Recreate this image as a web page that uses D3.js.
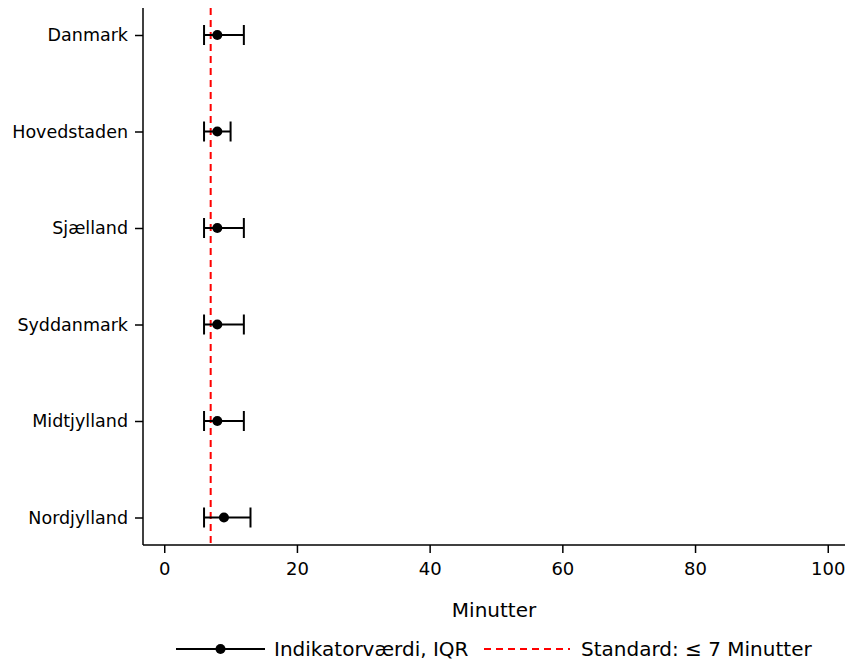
<!DOCTYPE html>
<html lang="en">
<head>
    <meta charset="UTF-8">
    <title>Indikatorværdi per region</title>
    <style>
        body { margin: 0; background: #fff; }
        svg { display: block; }
        svg text { font-family: "DejaVu Sans", sans-serif; fill: #000; }
        .axis path, .axis line { stroke: #000; stroke-width: 1.5px; }
    </style>
    <script src="https://d3js.org/d3.v7.min.js"></script>
</head>
<body>
    <div id="graph"></div>
    <script>
        const regions = ["Danmark", "Hovedstaden", "Sjælland", "Syddanmark", "Midtjylland", "Nordjylland"];
        const median = [8, 8, 8, 8, 8, 9];
        const q1 = [6, 6, 6, 6, 6, 6];
        const q3 = [12, 10, 12, 12, 12, 13];
        const standard = 7;
        const xTicks = [0, 20, 40, 60, 80, 100];

        const width = 845, height = 660;
        const margins = { top: 8, bottom: 115, left: 143, right: 0 };

        const svg = d3.select("#graph").append("svg")
            .attr("width", width)
            .attr("height", height);

        const x = d3.scaleLinear()
            .domain([-3.2, 102.6])
            .range([margins.left, width - margins.right]);

        const y = d3.scalePoint()
            .domain(regions)
            .range([35, 517.5]);

        const yBottom = height - margins.bottom;

        // axes
        svg.append("g")
            .attr("class", "axis")
            .attr("transform", `translate(0, ${yBottom})`)
            .call(d3.axisBottom(x).tickValues(xTicks).tickSize(8).tickSizeOuter(0).tickPadding(9))
            .call(g => g.select(".domain").attr("d", `M${margins.left},0H${width}`))
            .selectAll("text")
            .style("font-size", "18px");

        svg.append("g")
            .attr("class", "axis")
            .attr("transform", `translate(${margins.left}, 0)`)
            .call(d3.axisLeft(y).tickSize(8).tickSizeOuter(0).tickPadding(7))
            .call(g => g.select(".domain").attr("d", `M0,${margins.top}V${yBottom}`))
            .selectAll("text")
            .style("font-size", "17.5px");

        // standard line
        svg.append("line")
            .attr("x1", x(standard)).attr("x2", x(standard))
            .attr("y1", margins.top).attr("y2", yBottom)
            .attr("stroke", "#ff0000")
            .attr("stroke-width", 2)
            .attr("stroke-dasharray", "7,5");

        // IQR bars
        const rows = svg.append("g").selectAll("g")
            .data(regions)
            .join("g")
            .attr("transform", d => `translate(0, ${y(d)})`);

        rows.append("line")
            .attr("x1", (d, i) => x(q1[i]))
            .attr("x2", (d, i) => x(q3[i]))
            .attr("stroke", "#000").attr("stroke-width", 2);

        rows.append("line")
            .attr("x1", (d, i) => x(q1[i])).attr("x2", (d, i) => x(q1[i]))
            .attr("y1", -10).attr("y2", 10)
            .attr("stroke", "#000").attr("stroke-width", 2);

        rows.append("line")
            .attr("x1", (d, i) => x(q3[i])).attr("x2", (d, i) => x(q3[i]))
            .attr("y1", -10).attr("y2", 10)
            .attr("stroke", "#000").attr("stroke-width", 2);

        rows.append("circle")
            .attr("cx", (d, i) => x(median[i]))
            .attr("r", 5)
            .attr("fill", "#000");

        // axis title
        svg.append("text")
            .attr("x", (margins.left + width) / 2)
            .attr("y", 617)
            .attr("text-anchor", "middle")
            .style("font-size", "20px")
            .text("Minutter");

        // legend
        const legend = svg.append("g").attr("transform", "translate(0, 649)");
        legend.append("line")
            .attr("x1", 176).attr("x2", 265)
            .attr("stroke", "#000").attr("stroke-width", 2);
        legend.append("circle")
            .attr("cx", 220.5).attr("r", 5).attr("fill", "#000");
        legend.append("text")
            .attr("x", 274).attr("dy", "0.35em")
            .style("font-size", "20px")
            .text("Indikatorværdi, IQR");
        legend.append("line")
            .attr("x1", 484).attr("x2", 570)
            .attr("stroke", "#ff0000").attr("stroke-width", 2)
            .attr("stroke-dasharray", "7,5");
        legend.append("text")
            .attr("x", 581).attr("dy", "0.35em")
            .style("font-size", "20px")
            .text("Standard: ≤ 7 Minutter");
    </script>
</body>
</html>
